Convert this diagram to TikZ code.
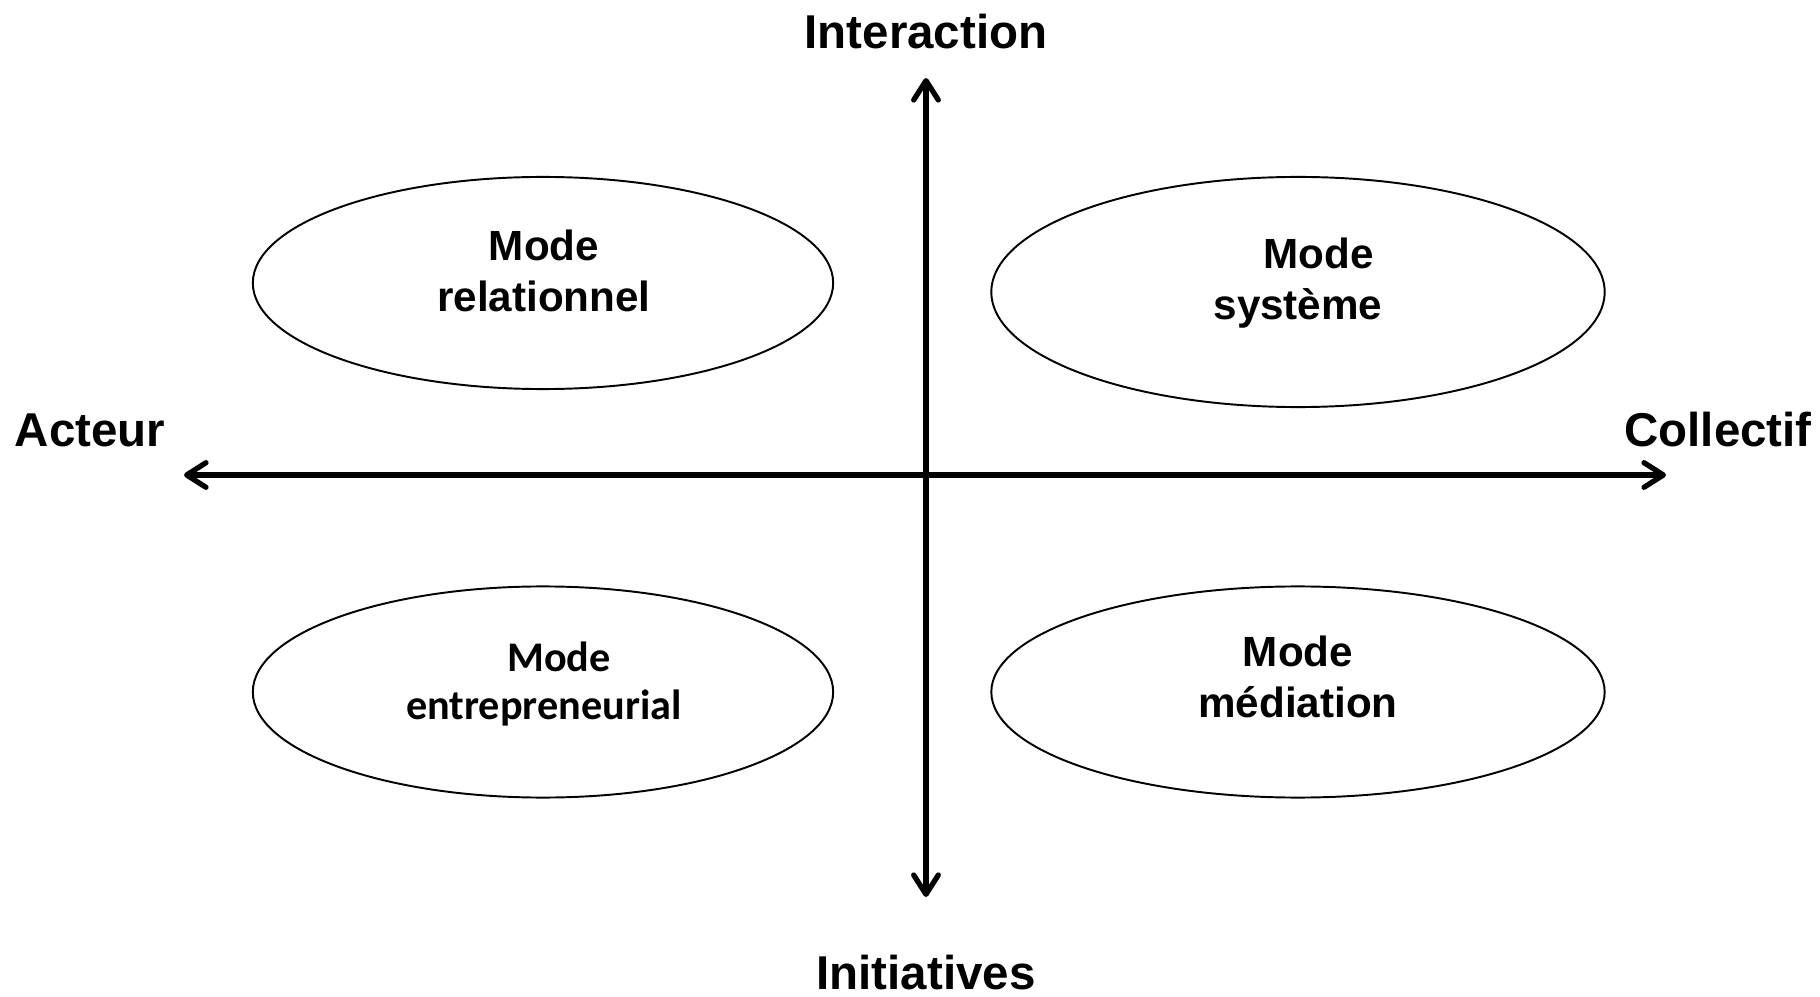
\documentclass[tikz,border=0pt]{standalone}
\usepackage{fontspec}
\setmainfont{Liberation Sans}
\newfontfamily\calibrifont{Carlito}
\usepackage{tikz}
\usetikzlibrary{arrows.meta,shapes.geometric}
\tikzstyle{every node}=[font=\bfseries]
\tikzstyle{mode}=[ellipse,
                  draw=black,
                  line width=.55pt,
                  inner sep=0pt,
                  minimum width=5.8cm,
                  minimum height=2.12cm
                  ]
\tikzstyle{modetext}=[align=center,
                      font=\bfseries\fontsize{12}{14.5}\selectfont
                      ]
\tikzstyle{axislabel}=[anchor=base,
                       font=\bfseries\fontsize{13.5}{16}\selectfont
                       ]
\tikzstyle{axis}=[line width=1.5pt,
                  line cap=round,
                  {Straight Barb[length=5.5pt,width=7pt,line cap=round,line join=round]}-{Straight Barb[length=5.5pt,width=7pt,line cap=round,line join=round]}
                  ]

\begin{document}
\begin{tikzpicture}[x=0.01cm,y=-0.01cm]
\useasboundingbox (0,0) rectangle (1820,997);
\coordinate (A_top)    at (926,78);
\coordinate (A_bottom) at (926,897);
\coordinate (A_left)   at (184,475);
\coordinate (A_right)  at (1666,475);
\node (M_rel) [mode] at (543,283) {};
\node (M_sys) [mode,minimum width=6.13cm,minimum height=2.30cm] at (1298,292) {};
\node (M_ent) [mode,minimum height=2.11cm] at (543,692) {};
\node (M_med) [mode,minimum width=6.13cm,minimum height=2.11cm] at (1298,692) {};
\node (T_rel) [modetext] at (544,271) {Mode\\relationnel};
\node (T_sys) [modetext] at (1298,283) {\hspace*{11.6pt}Mode\\système};
\node (T_ent) [modetext,font=\calibrifont\bfseries\fontsize{12}{13.4}\selectfont] at (544,684) {\hspace*{8.5pt}Mode\\entrepreneurial};
\node (T_med) [modetext] at (1298,677) {Mode\\médiation};
\node (L_int) [axislabel] at (926,49) {Interaction};
\node (L_ini) [axislabel] at (926,989) {Initiatives};
\node (L_act) [axislabel] at (90,447) {Acteur};
\node (L_col) [axislabel] at (1718,447) {Collectif};
 \draw[axis] (A_left) -- (A_right);
 \draw[axis] (A_bottom) -- (A_top);
\end{tikzpicture}
\end{document}
